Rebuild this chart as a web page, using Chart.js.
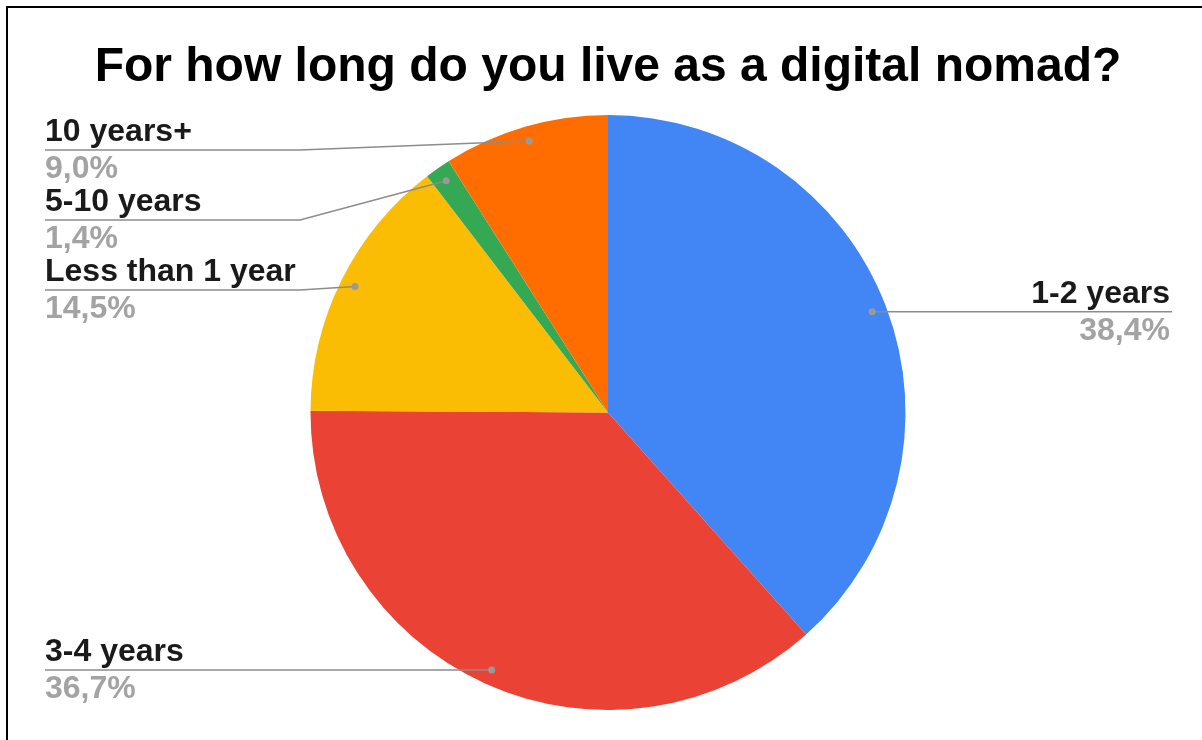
<!DOCTYPE html>
<html>
<head>
<meta charset="utf-8">
<title>Digital nomad survey</title>
<script src="https://cdn.jsdelivr.net/npm/chart.js"></script>
<style>
    body { margin: 0; background: #fff; }
    #wrap { position: relative; width: 1202px; height: 740px; overflow: hidden; }
    #frame {
        position: absolute; left: 6px; top: 6px; right: -10px; bottom: -10px;
        border-top: 2px solid #000; border-left: 2px solid #000;
        pointer-events: none;
    }
    canvas { position: absolute; left: 0; top: 0; }
</style>
</head>
<body>
<div id="wrap">
    <canvas id="nomadChart" width="1202" height="740"></canvas>
    <div id="frame"></div>
</div>
<script>
/* ================= DATA ================= */

const categories = ['1-2 years', '3-4 years', 'Less than 1 year', '5-10 years', '10 years+'];
const shares = [38.4, 36.7, 14.5, 1.4, 9.0];
const sliceColors = ['#4285f4', '#ea4335', '#fbbc04', '#34a853', '#ff6d01'];

const FONT = "'Liberation Sans', Arial, sans-serif";

/* ================= LEADER LABELS ================= */

// google-sheets style callouts: dot in the slice, line out to the side, name above, percent below
const leaderLabels = {
    id: 'leaderLabels',
    afterDatasetsDraw(chart) {
        const ctx = chart.ctx;
        const arcs = chart.getDatasetMeta(0).data;
        const total = shares.reduce((a, b) => a + b, 0);

        let items = arcs.map((arc, i) => {
            const p = arc.getProps(['x', 'y', 'startAngle', 'endAngle', 'outerRadius'], true);
            const mid = (p.startAngle + p.endAngle) / 2;
            return {
                i: i,
                dotX: p.x + Math.cos(mid) * p.outerRadius * 0.95,
                dotY: p.y + Math.sin(mid) * p.outerRadius * 0.95,
                left: Math.cos(mid) < 0
            };
        });

        // push labels down so they don't overlap
        [true, false].forEach(side => {
            let prev = -Infinity;
            items.filter(it => it.left === side)
                .sort((a, b) => a.dotY - b.dotY)
                .forEach(it => {
                    it.lineY = Math.max(it.dotY, prev + 70, 150);
                    prev = it.lineY;
                });
        });

        ctx.save();
        items.forEach(it => {
            const startX = it.left ? 45 : 1172;
            const elbowX = it.left ? 300 : 916;

            ctx.strokeStyle = '#8c8c8c';
            ctx.lineWidth = 1.5;
            ctx.beginPath();
            ctx.moveTo(startX, it.lineY);
            ctx.lineTo(elbowX, it.lineY);
            ctx.lineTo(it.dotX, it.dotY);
            ctx.stroke();

            ctx.fillStyle = '#999';
            ctx.beginPath();
            ctx.arc(it.dotX, it.dotY, 3.5, 0, Math.PI * 2);
            ctx.fill();

            const textX = it.left ? 45 : 1170;
            ctx.textAlign = it.left ? 'left' : 'right';
            ctx.textBaseline = 'alphabetic';
            ctx.font = 'bold 32px ' + FONT;

            ctx.fillStyle = '#1a1a1a';
            ctx.fillText(categories[it.i], textX, it.lineY - 9);

            let pct = (shares[it.i] / total * 100).toFixed(1).replace('.', ',') + '%';
            ctx.fillStyle = '#a3a3a3';
            ctx.fillText(pct, textX, it.lineY + 28);
        });
        ctx.restore();
    }
};

/* ================= CHART ================= */

const ctx = document.getElementById('nomadChart');

let pieChart = new Chart(ctx, {
    type: 'pie',
    data: {
        labels: categories,
        datasets: [{
            data: shares,
            backgroundColor: sliceColors,
            borderWidth: 0
        }]
    },
    options: {
        responsive: false,
        animation: false,
        layout: {
            padding: { top: 0, bottom: 30, left: 14, right: 0 }
        },
        plugins: {
            legend: { display: false },
            tooltip: { enabled: false },
            title: {
                display: true,
                text: 'For how long do you live as a digital nomad?',
                color: '#000',
                font: { family: FONT, size: 48, weight: 'bold', lineHeight: 1.2 },
                padding: { top: 38.7, bottom: 18.7 }
            }
        }
    },
    plugins: [leaderLabels]
});
</script>
</body>
</html>
